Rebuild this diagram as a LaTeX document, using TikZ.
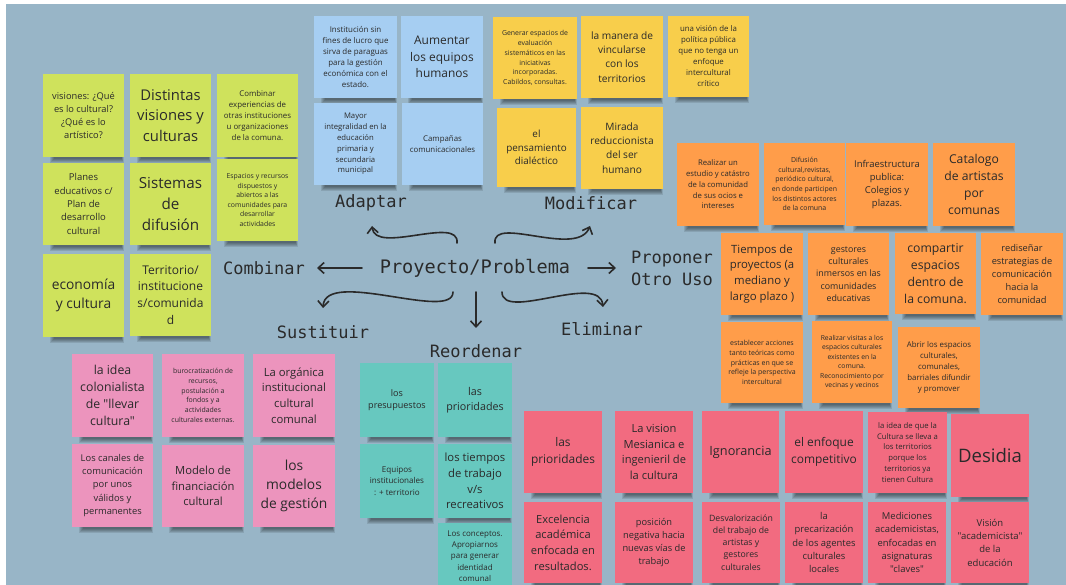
\documentclass[tikz,border=0pt]{standalone}
\usepackage{fontspec}
\setmainfont{Open Sans}[Ligatures=TeXOff]
\newfontfamily\monof{DejaVu Sans Mono}
\usetikzlibrary{arrows.meta}
\definecolor{bgc}{HTML}{98B5C7}
\definecolor{cLime}{HTML}{CFE25C}
\definecolor{cBlue}{HTML}{A6CEF2}
\definecolor{cYel}{HTML}{F8CE4B}
\definecolor{cOra}{HTML}{FF9D4A}
\definecolor{cTeal}{HTML}{67C8BF}
\definecolor{cPink}{HTML}{EC94BD}
\definecolor{cCor}{HTML}{F26B80}
\definecolor{ink}{HTML}{2A2A2A}
\tikzset{
  stick/.style={anchor=north west, inner sep=0pt, outer sep=0pt, align=center, text=ink},
  lbl/.style={font=\monof\fontsize{17}{22}\selectfont, text=ink, inner sep=2pt, align=left},
  arr/.style={-{Straight Barb[length=6pt,width=11pt]}, line width=1.6pt, draw=ink, line cap=round, line join=round}
}
\newcommand\snote[8]{%
  \foreach \k in {0,...,4}{\fill[black,opacity=0.1] ({#2+7+\k},{#3+#5-4}) rectangle ({#2+#4-\k*0.6},{#3+#5+6-\k});}
  \node[stick, fill=#6, minimum width=#4, minimum height=#5,
        font=\fontsize{\dimexpr #7pt*10/14\relax}{#7pt}\selectfont] (#1) at (#2,#3) {#8};
}
\begin{document}
\begin{tikzpicture}[x=1pt,y=-1pt]
\useasboundingbox (0,0) rectangle (1066,585);
\clip (0,0) rectangle (1066,585);
\fill[white] (0,0) rectangle (1066,585);
\fill[bgc] (6,4) rectangle (1066,585);

% green
\snote{gA}{43}{74}{81}{83}{cLime}{13}{visiones: ¿Qué\\es lo cultural?\\¿Qué es lo\\artístico?}
\snote{gB}{130}{74}{81}{83}{cLime}{20.7}{Distintas\\visiones y\\culturas}
\snote{gC}{217}{74}{81}{83}{cLime}{11}{Combinar\\experiencias de\\otras instituciones\\u organizaciones\\de la comuna.}
\snote{gD}{43}{163}{81}{82}{cLime}{13.3}{Planes\\educativos c/\\Plan de\\desarrollo\\cultural}
\snote{gE}{130}{163}{81}{82}{cLime}{21.3}{Sistemas\\de\\difusión}
\snote{gF}{217}{159}{81}{82}{cLime}{9.6}{Espacios y recursos\\dispuestos y\\abiertos a las\\comunidades para\\desarrollar\\actividades}
\snote{gG}{43}{254}{81}{83}{cLime}{19.3}{economía\\y cultura}
\snote{gH}{130}{254}{81}{82}{cLime}{16.8}{Territorio/\\institucione\\s/comunida\\d}

% blue
\snote{bA}{314}{16}{83}{82}{cBlue}{11.1}{Institución sin\\fines de lucro que\\sirva de paraguas\\para la gestión\\económica con el\\estado.}
\snote{bB}{401}{16}{82}{82}{cBlue}{16.7}{Aumentar\\los equipos\\humanos}
\snote{bC}{314}{103}{83}{82}{cBlue}{10.8}{Mayor\\integralidad en la\\educación\\primaria y\\secundaria\\municipal}
\snote{bD}{402}{103}{81}{82}{cBlue}{11}{Campañas\\comunicacionales}

% yellow
\snote{yA}{493}{17}{84}{82}{cYel}{9.7}{Generar espacios de\\evaluación\\sistemáticos en las\\iniciativas\\incorporadas.\\Cabildos, consultas.}
\snote{yB}{581}{16}{82}{82}{cYel}{14.2}{la manera de\\vincularse\\con los\\territorios}
\snote{yC}{668}{16}{81}{81}{cYel}{11}{una visión de la\\política pública\\que no tenga un\\enfoque\\intercultural\\crítico}
\snote{yD}{497}{108}{79}{79}{cYel}{13.8}{el\\pensamiento\\dialéctico}
\snote{yE}{581}{107}{82}{82}{cYel}{14.2}{Mirada\\reduccionista\\del ser\\humano}

% orange
\snote{oA}{677}{143}{82}{83}{cOra}{10.8}{Realizar un\\estudio y catástro\\de la comunidad\\de sus ocios e\\intereses}
\snote{oB}{764}{143}{81}{82}{cOra}{9.7}{Difusión\\cultural,revistas,\\periódico cultural,\\en donde participen\\los distintos actores\\de la comuna}
\snote{oC}{846}{143}{82}{83}{cOra}{13.2}{Infraestructura\\publica:\\Colegios y\\plazas.}
\snote{oD}{933}{143}{82}{83}{cOra}{17}{Catalogo\\de artistas\\por\\comunas}
\snote{oE}{721}{233}{82}{82}{cOra}{15.9}{Tiempos de\\proyectos (a\\mediano y\\largo plazo )}
\snote{oF}{808}{233}{81}{82}{cOra}{12.4}{gestores\\culturales\\inmersos en las\\comunidades\\educativas}
\snote{oG}{895}{233}{81}{81}{cOra}{17.1}{compartir\\espacios\\dentro de\\la comuna.}
\snote{oH}{981}{233}{82}{82}{cOra}{13}{rediseñar\\estrategias de\\comunicación\\hacia la\\comunidad}
\snote{oI}{721}{322}{82}{81}{cOra}{9.8}{establecer acciones\\tanto teóricas como\\prácticas en que se\\refleje la perspectiva\\intercultural}
\snote{oJ}{812}{321}{80}{82}{cOra}{9.5}{Realizar visitas a los\\espacios culturales\\existentes en la\\comuna.\\Reconocimiento por\\vecinas y vecinos}
\snote{oK}{898}{327}{82}{81}{cOra}{11}{Abrir los espacios\\culturales,\\comunales,\\barriales difundir\\y promover}

% teal
\snote{tA}{360}{363}{74}{74}{cTeal}{12.7}{los\\presupuestos}
\snote{tB}{438}{363}{74}{74}{cTeal}{15}{las\\prioridades}
\snote{tC}{360}{444}{74}{74}{cTeal}{11.3}{Equipos\\institucionales\\: + territorio}
\snote{tD}{438}{444}{74}{74}{cTeal}{15.8}{los tiempos\\de trabajo\\v/s\\recreativos}
\snote{tE}{438}{523}{74}{66}{cTeal}{11.2}{Los conceptos.\\Apropiarnos\\para generar\\identidad\\comunal}

% pink
\snote{pA}{72}{354}{81}{83}{cPink}{17.2}{la idea\\colonialista\\de "llevar\\cultura"}
\snote{pB}{162}{354}{82}{83}{cPink}{9.7}{burocratización de\\recursos,\\postulación a\\fondos y a\\actividades\\culturales externas.}
\snote{pC}{253}{354}{82}{83}{cPink}{15.8}{La orgánica\\institucional\\cultural\\comunal}
\snote{pD}{72}{444}{81}{83}{cPink}{13.1}{Los canales de\\comunicación\\por unos\\válidos y\\permanentes}
\snote{pE}{162}{445}{82}{82}{cPink}{15.7}{Modelo de\\financiación\\cultural}
\snote{pF}{253}{445}{82}{82}{cPink}{19.3}{los\\modelos\\de gestión}

% coral
\snote{cA}{524}{411}{78}{82}{cCor}{16.7}{las\\prioridades}
\snote{cB}{615}{411}{78}{82}{cCor}{15.6}{La vision\\Mesianica e\\ingenieril de\\la cultura}
\snote{cC}{702}{411}{77}{82}{cCor}{17.8}{Ignorancia}
\snote{cD}{785}{411}{78}{82}{cCor}{16.7}{el enfoque\\competitivo}
\snote{cE}{868}{412}{79}{81}{cCor}{10.8}{la idea de que la\\Cultura se lleva a\\los territorios\\porque los\\territorios ya\\tienen Cultura}
\snote{cF}{951}{414}{78}{83}{cCor}{26}{Desidia}
\snote{cG}{524}{502}{78}{81}{cCor}{15.6}{Excelencia\\académica\\enfocada en\\resultados.}
\snote{cH}{615}{502}{78}{81}{cCor}{13}{posición\\negativa hacia\\nuevas vías de\\trabajo}
\snote{cI}{702}{502}{78}{81}{cCor}{12.2}{Desvalorización\\del trabajo de\\artistas y\\gestores\\culturales}
\snote{cJ}{785}{502}{78}{81}{cCor}{13.2}{la\\precarización\\de los agentes\\culturales\\locales}
\snote{cK}{868}{502}{78}{81}{cCor}{13.2}{Mediciones\\academicistas,\\enfocadas en\\asignaturas\\"claves"}
\snote{cL}{951}{502}{78}{81}{cCor}{13.3}{Visión\\"academicista"\\de la\\educación}

% labels
\node[lbl, font=\monof\fontsize{18.6}{22}\selectfont] (prob) at (475,268) {Proyecto/Problema};
\node[lbl] (adapt) at (371,203) {Adaptar};
\node[lbl] (modif) at (591,203) {Modificar};
\node[lbl] (comb) at (264,268) {Combinar};
\node[lbl] (prop) at (672,268) {Proponer\\Otro Uso};
\node[lbl] (sust) at (323,332) {Sustituir};
\node[lbl] (elim) at (602,329) {Eliminar};
\node[lbl] (reord) at (476,351) {Reordenar};

% connector end points
\coordinate (sA) at (457,243); \coordinate (eA) at (372,226);
\coordinate (sM) at (495,243); \coordinate (eM) at (590,226);
\coordinate (sC) at (362,268); \coordinate (eC) at (317,268);
\coordinate (sP) at (588,268); \coordinate (eP) at (616,268);
\coordinate (sS) at (453,292); \coordinate (eS) at (323,308);
\coordinate (sE) at (502,292); \coordinate (eE) at (603,307);
\coordinate (sR) at (476,292); \coordinate (eR) at (476,328);

\draw[arr] (sA) .. controls (460,215) and (375,255) .. (eA);
\draw[arr] (sM) .. controls (492,215) and (577,258) .. (eM);
\draw[arr] (sC) -- (eC);
\draw[arr] (sP) -- (eP);
\draw[arr] (sS) .. controls (453,322) and (325,268) .. (eS);
\draw[arr] (sE) .. controls (502,322) and (600,272) .. (eE);
\draw[arr] (sR) -- (eR);
\end{tikzpicture}
\end{document}
